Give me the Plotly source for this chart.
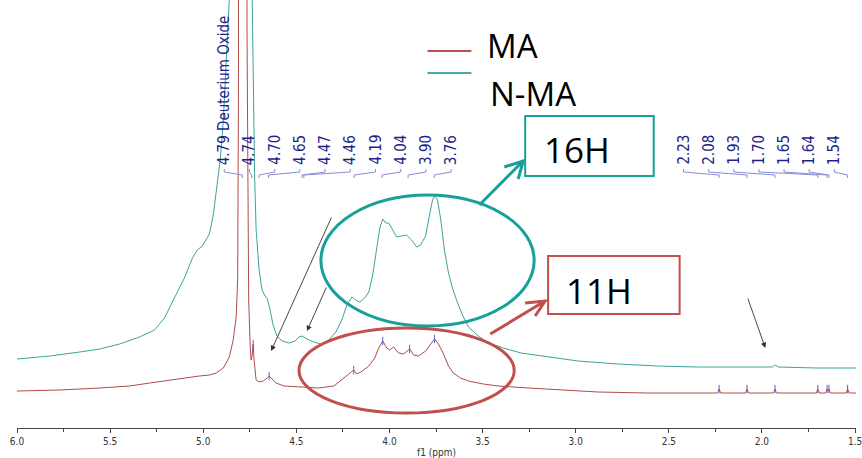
import plotly.graph_objects as go

# ---- 1H NMR spectra (chemical shift in ppm, relative intensity) ----
ma_ppm = [6.000, 5.770, 5.556, 5.395, 5.288, 5.181, 5.074, 5.021, 4.967, 4.930,
          4.892, 4.860, 4.839, 4.823, 4.815, 4.811, 4.807, 4.803, 4.788, 4.775,
          4.772, 4.769, 4.765, 4.761, 4.756, 4.748, 4.743, 4.737, 4.732, 4.727,
          4.721, 4.716, 4.700, 4.678, 4.657, 4.646, 4.630, 4.609, 4.566, 4.486,
          4.379, 4.298, 4.245, 4.218, 4.192, 4.176, 4.154, 4.111, 4.079, 4.058,
          4.036, 4.015, 3.999, 3.978, 3.951, 3.924, 3.892, 3.870, 3.844, 3.806,
          3.780, 3.758, 3.737, 3.715, 3.683, 3.657, 3.619, 3.576, 3.496, 3.416,
          3.255, 3.095, 2.881, 2.613,
          2.238, 2.230, 2.222, 2.088, 2.080, 2.072, 1.938, 1.930, 1.922,
          1.708, 1.700, 1.692, 1.658, 1.650, 1.645, 1.640, 1.632,
          1.548, 1.540, 1.532, 1.490]
ma_int = [37, 38, 40, 42, 45, 48, 51, 52, 53, 55,
          60, 71, 88, 111, 150, 330, 3000, 600, 500, 700,
          900, 2500, 400, 250, 128, 83, 68, 73, 84, 68,
          53, 48, 46, 47, 50, 52, 49, 45, 42, 41,
          40, 42, 50, 54, 58, 54, 56, 62, 70, 80,
          87, 80, 78, 81, 75, 74, 79, 73, 72, 77,
          84, 89, 84, 76, 62, 55, 50, 47, 44, 42,
          40, 38, 36, 35,
          35, 39, 35, 35, 39, 35, 35, 39, 35,
          35, 39, 35, 35, 39, 37, 39, 35,
          35, 39, 35, 35]

nma_ppm = [6.000, 5.823, 5.663, 5.556, 5.449, 5.342, 5.262, 5.208, 5.155, 5.101,
           5.058, 5.032, 5.005, 4.967, 4.946, 4.925, 4.909, 4.892, 4.876, 4.860,
           4.844, 4.807, 4.769, 4.745, 4.737, 4.724, 4.716, 4.700, 4.684, 4.668,
           4.657, 4.641, 4.625, 4.604, 4.577, 4.539, 4.507, 4.486, 4.470, 4.443,
           4.406, 4.368, 4.325, 4.288, 4.256, 4.229, 4.202, 4.181, 4.159, 4.133,
           4.111, 4.090, 4.068, 4.052, 4.036, 4.020, 4.004, 3.983, 3.962, 3.935,
           3.908, 3.881, 3.854, 3.833, 3.806, 3.785, 3.769, 3.758, 3.742, 3.726,
           3.705, 3.683, 3.662, 3.640, 3.608, 3.576, 3.523, 3.469, 3.389, 3.293,
           3.148, 2.988, 2.774, 2.560, 2.346, 1.944, 1.928, 1.912, 1.704, 1.490]
nma_int = [69, 72, 76, 79, 84, 91, 98, 110, 130, 150,
           170, 178, 182, 194, 213, 246, 268, 308, 368, 428,
           700, 2000, 2000, 1200, 430, 251, 198, 158, 138, 132,
           130, 118, 103, 92, 87, 85, 87, 91, 92, 89,
           86, 84, 88, 96, 108, 123, 131, 128, 126, 130,
           136, 153, 178, 200, 209, 205, 205, 198, 191, 192,
           193, 188, 181, 183, 192, 213, 228, 232, 228, 210,
           178, 155, 140, 128, 113, 101, 92, 85, 80, 75,
           71, 67, 64, 62, 61, 61, 63, 61, 60, 60]

# peak-picked positions on the MA spectrum (small blue ticks)
pick_ppm = [4.732, 4.646, 4.192, 4.036, 3.892, 3.758,
            2.230, 2.080, 1.930, 1.700, 1.650, 1.640, 1.540]
pick_int = [84, 52, 58, 87, 79, 89, 39, 39, 39, 39, 39, 39, 39]

# peak labels
labels_left = ["4.79", "4.74", "4.70", "4.65", "4.47", "4.46", "4.19", "4.04", "3.90", "3.76"]
labels_right = ["2.23", "2.08", "1.93", "1.70", "1.65", "1.64", "1.54"]
x_ticks = [6.0, 5.5, 5.0, 4.5, 4.0, 3.5, 3.0, 2.5, 2.0, 1.5]

# ---- geometry helpers (figure pixels -> paper / data coordinates) ----
W, H = 862, 458
ML, MR, MT, MB = 17, 3, 0, 30
PW, PH = W - ML - MR, H - MT - MB
X_RANGE = [6.0, 1.495]


def pxp(x):
    return (x - ML) / PW


def pyp(y):
    return 1 - (y - MT) / PH


def px_to_ppm(x):
    return X_RANGE[0] + (x - ML) / PW * (X_RANGE[1] - X_RANGE[0])


RED = "#c0504d"
TEAL = "#17a098"
NAVY = "#1c1f8c"
LAV = "#8c8cd4"

fig = go.Figure()
fig.add_trace(go.Scatter(x=ma_ppm, y=ma_int, mode="lines", name="MA",
                         line=dict(color="#b24b4b", width=1), showlegend=False))
fig.add_trace(go.Scatter(x=nma_ppm, y=nma_int, mode="lines", name="N-MA",
                         line=dict(color="#3aa59b", width=1), showlegend=False))
fig.add_trace(go.Scatter(x=pick_ppm, y=pick_int, mode="markers", showlegend=False,
                         marker=dict(symbol="line-ns", size=6,
                                     line=dict(color="#6060d0", width=1))))

shapes = []
annotations = []

# peak label stacks with connector brackets
LABEL_FONT = dict(family="DejaVu Sans Condensed, sans-serif", size=15, color=NAVY)


def add_labels(values, start_px, step_px, first_suffix=""):
    for i, v in enumerate(values):
        lx = px_to_ppm(start_px + i * step_px)
        text = v + (first_suffix if i == 0 else "")
        annotations.append(dict(x=lx, y=pyp(167), xref="x", yref="paper", text=text,
                                textangle=-90, showarrow=False, xanchor="center",
                                yanchor="bottom", font=LABEL_FONT))
        pk = float(v)
        path = (f"M {lx},{pyp(169)} L {lx},{pyp(172)} "
                f"L {pk},{pyp(175)} L {pk},{pyp(178)}")
        shapes.append(dict(type="path", xref="x", yref="paper", path=path,
                           line=dict(color=LAV, width=1)))


add_labels(labels_left, 225, 25.3, " Deuterium Oxide")
add_labels(labels_right, 686, 25.2)

# legend
shapes.append(dict(type="line", xref="paper", yref="paper", x0=pxp(429), x1=pxp(473),
                   y0=pyp(51), y1=pyp(51), line=dict(color=RED, width=2)))
shapes.append(dict(type="line", xref="paper", yref="paper", x0=pxp(429), x1=pxp(473),
                   y0=pyp(73), y1=pyp(73), line=dict(color="#4aaba0", width=2)))
BIG = dict(family="Open Sans, sans-serif", size=33, color="black")
annotations.append(dict(x=pxp(487), y=pyp(45), xref="paper", yref="paper", text="MA",
                        showarrow=False, xanchor="left", yanchor="middle", font=BIG))
annotations.append(dict(x=pxp(490), y=pyp(93), xref="paper", yref="paper", text="N-MA",
                        showarrow=False, xanchor="left", yanchor="middle", font=BIG))

# highlighted regions
shapes.append(dict(type="circle", xref="paper", yref="paper", x0=pxp(322), x1=pxp(536),
                   y0=pyp(326), y1=pyp(195), line=dict(color=TEAL, width=3)))
shapes.append(dict(type="circle", xref="paper", yref="paper", x0=pxp(300), x1=pxp(516),
                   y0=pyp(413), y1=pyp(328), line=dict(color=RED, width=3)))

# proton-count boxes
shapes.append(dict(type="rect", xref="paper", yref="paper", x0=pxp(527), x1=pxp(656),
                   y0=pyp(176), y1=pyp(116), line=dict(color=TEAL, width=2)))
shapes.append(dict(type="rect", xref="paper", yref="paper", x0=pxp(550), x1=pxp(682),
                   y0=pyp(314), y1=pyp(256), line=dict(color=RED, width=2)))
BOX = dict(family="Open Sans, sans-serif", size=35, color="black")
annotations.append(dict(x=pxp(579), y=pyp(149), xref="paper", yref="paper", text="16H",
                        showarrow=False, xanchor="center", yanchor="middle", font=BOX))
annotations.append(dict(x=pxp(601), y=pyp(290), xref="paper", yref="paper", text="11H",
                        showarrow=False, xanchor="center", yanchor="middle", font=BOX))


def open_arrow(x0, y0, x1, y1, a, b, color):
    path = (f"M {pxp(x0)},{pyp(y0)} L {pxp(x1)},{pyp(y1)} "
            f"M {pxp(a[0])},{pyp(a[1])} L {pxp(x1)},{pyp(y1)} L {pxp(b[0])},{pyp(b[1])}")
    shapes.append(dict(type="path", xref="paper", yref="paper", path=path,
                       line=dict(color=color, width=3)))


open_arrow(481, 205, 525, 161, (506, 167), (520, 179), TEAL)
open_arrow(492, 334, 547, 301, (527, 303), (537, 316), RED)

# thin pointer arrows
for tip, tail in [((272, 351), (333, 216)), ((308, 331), (328, 286)), ((768, 348), (750, 297))]:
    annotations.append(dict(x=pxp(tip[0]), y=pyp(tip[1]), xref="paper", yref="paper",
                            ax=tail[0] - tip[0], ay=tail[1] - tip[1], axref="pixel", ayref="pixel",
                            text="", showarrow=True, arrowhead=2, arrowsize=1.2,
                            arrowwidth=0.9, arrowcolor="#333333", standoff=0))

fig.update_layout(
    width=W, height=H,
    margin=dict(l=ML, r=MR, t=MT, b=MB),
    paper_bgcolor="white", plot_bgcolor="white",
    shapes=shapes, annotations=annotations,
    xaxis=dict(range=X_RANGE, tickvals=x_ticks, ticktext=[f"{v:.1f}" for v in x_ticks],
               showgrid=False, zeroline=False, showline=True, linecolor="#444",
               linewidth=1, ticks="outside", ticklen=4, tickcolor="#444",
               ticklabeloverflow="allow",
               minor=dict(dtick=0.25, ticks="outside", ticklen=3, tickcolor="#444"),
               tickfont=dict(family="DejaVu Sans Condensed, sans-serif", size=10, color="#333"),
               title=dict(text="f1 (ppm)", standoff=4,
                          font=dict(family="DejaVu Sans Condensed, sans-serif", size=10,
                                    color="#333"))),
    yaxis=dict(range=[0, PH], visible=False, fixedrange=True),
    showlegend=False,
)

fig.write_html("out.html")
